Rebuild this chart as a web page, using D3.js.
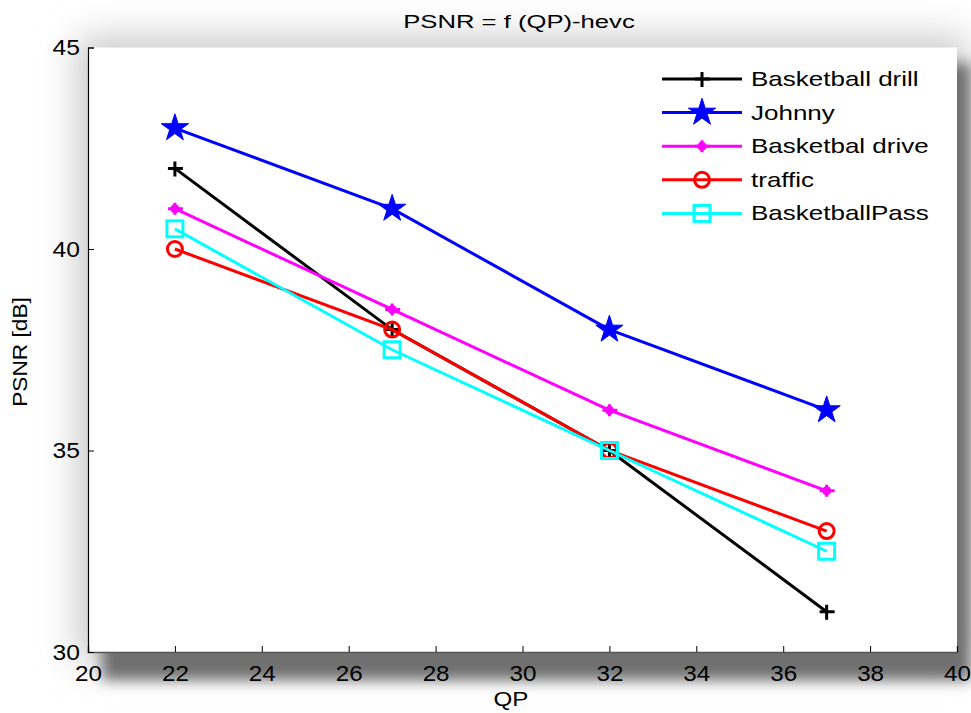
<!DOCTYPE html>
<html><head><meta charset="utf-8">
<script src="https://cdn.jsdelivr.net/npm/d3@7/dist/d3.min.js"></script>
<style>body{margin:0;background:#fff}svg{display:block;font-family:"Liberation Sans",Arial,sans-serif}</style>
</head><body><svg id="c" width="971" height="713"></svg>
<script>
const qp = [22, 27, 32, 37];
const basketballDrill = [42, 38, 35, 31];
const johnny = [43, 41, 38, 36];
const basketbalDrive = [41, 38.5, 36, 34];
const traffic = [40, 38, 35, 33];
const basketballPass = [40.5, 37.5, 35, 32.5];
const seriesNames = ["Basketball drill", "Johnny", "Basketbal drive", "traffic", "BasketballPass"];
const seriesColors = ["#000000", "#0000ff", "#ff00ff", "#ff0000", "#00ffff"];
const seriesMarkers = ["plus", "star", "blob", "circle", "square"];
const xTicks = [20, 22, 24, 26, 28, 30, 32, 34, 36, 38, 40];
const yTicks = [30, 35, 40, 45];

const series = [basketballDrill, johnny, basketbalDrive, traffic, basketballPass].map((v, i) => ({
  name: seriesNames[i], color: seriesColors[i], marker: seriesMarkers[i], values: v
}));

const svg = d3.select("#c");
const L = 88, R = 957, T = 47.5, B = 652;
const x = d3.scaleLinear().domain([20, 40]).range([L, R]);
const y = d3.scaleLinear().domain([30, 45]).range([B, T]);

const defs = svg.append("defs");
const f = defs.append("filter").attr("id", "sh").attr("x", "-20%").attr("y", "-20%").attr("width", "140%").attr("height", "140%");
f.append("feGaussianBlur").attr("stdDeviation", 18);
const f2 = defs.append("filter").attr("id", "sh2").attr("x", "-20%").attr("y", "-20%").attr("width", "140%").attr("height", "140%");
f2.append("feGaussianBlur").attr("stdDeviation", 7);

svg.append("rect").attr("x", L - 10).attr("y", T - 10).attr("width", R - L + 20).attr("height", B - T + 20)
  .attr("fill", "#c8c8c8").attr("filter", "url(#sh)");
svg.append("rect").attr("x", L + 14).attr("y", T + 16).attr("width", R - L).attr("height", B - T + 12)
  .attr("fill", "#707070").attr("filter", "url(#sh2)");
svg.append("rect").attr("x", L).attr("y", T).attr("width", R - L).attr("height", B - T).attr("fill", "#fff");

function stretchText(sel, k) {
  sel.each(function () {
    const t = d3.select(this);
    const xx = +t.attr("x") || 0;
    t.attr("x", xx / k).attr("transform", `scale(${k},1)`);
  });
}

const xAxis = d3.axisBottom(x).tickValues(xTicks).tickSize(-6).tickPadding(13).tickFormat(d3.format("d"));
const gx = svg.append("g").attr("transform", `translate(0,${B})`).call(xAxis);
gx.select(".domain").attr("stroke", "#555").attr("stroke-width", 1.5);
gx.selectAll(".tick line").attr("stroke", "#000");
gx.selectAll("text").attr("font-size", 22).attr("fill", "#000").attr("font-family", "Liberation Sans, Arial, sans-serif");
stretchText(gx.selectAll("text"), 1.1);

const yAxis = d3.axisLeft(y).tickValues(yTicks).tickSize(-6).tickPadding(8).tickFormat(d3.format("d"));
const gy = svg.append("g").attr("transform", `translate(${L},0)`).call(yAxis);
gy.select(".domain").attr("stroke", "#000").attr("stroke-width", 1.2);
gy.selectAll(".tick line").attr("stroke", "#000");
gy.selectAll("text").attr("font-size", 22).attr("fill", "#000").attr("font-family", "Liberation Sans, Arial, sans-serif");
stretchText(gy.selectAll("text"), 1.12);

function label(txt, cx, cy, size, k, rot) {
  svg.append("g").attr("transform", `translate(${cx},${cy}) rotate(${rot || 0}) scale(${k},1)`)
    .append("text").attr("text-anchor", "middle").attr("font-size", size).text(txt);
}
label("PSNR = f (QP)-hevc", 519, 28, 19, 1.35);
label("QP", 511, 706, 21, 1.15);
label("PSNR [dB]", 27, 352, 21, 1.08, -90);

const starPath = d3.symbol().type(d3.symbolStar).size(230)();
function drawMarker(g, m, color) {
  if (m === "plus") {
    g.append("path").attr("d", "M-7,0H8M0,-7V8").attr("stroke", color).attr("stroke-width", 3).attr("fill", "none");
  } else if (m === "star") {
    g.append("path").attr("d", starPath).attr("fill", color).attr("stroke", color).attr("stroke-width", 1);
  } else if (m === "blob") {
    g.append("path").attr("d", "M-7,0H8M0,-6V6").attr("stroke", color).attr("stroke-width", 3).attr("fill", "none");
    g.append("circle").attr("r", 4.5).attr("fill", color);
  } else if (m === "circle") {
    g.append("circle").attr("r", 7.5).attr("fill", "none").attr("stroke", color).attr("stroke-width", 3);
  } else if (m === "square") {
    g.append("rect").attr("x", -8).attr("y", -8).attr("width", 16).attr("height", 16).attr("fill", "none").attr("stroke", color).attr("stroke-width", 3);
  }
}

const line = d3.line().x((d, i) => x(qp[i])).y(d => y(d));
series.forEach(s => {
  svg.append("path").datum(s.values).attr("d", line).attr("fill", "none").attr("stroke", s.color).attr("stroke-width", 3);
  s.values.forEach((v, i) => {
    const g = svg.append("g").attr("transform", `translate(${x(qp[i])},${y(v)})`);
    drawMarker(g, s.marker, s.color);
  });
});

const lg = svg.append("g");
series.forEach((s, i) => {
  const yy = 79 + i * 33.6;
  lg.append("line").attr("x1", 662).attr("x2", 742).attr("y1", yy).attr("y2", yy).attr("stroke", s.color).attr("stroke-width", 3);
  drawMarker(lg.append("g").attr("transform", `translate(702,${yy})`), s.marker, s.color);
  lg.append("g").attr("transform", `translate(751,${yy + 7}) scale(1.3,1)`)
    .append("text").attr("font-size", 20).text(s.name);
});
</script></body></html>
